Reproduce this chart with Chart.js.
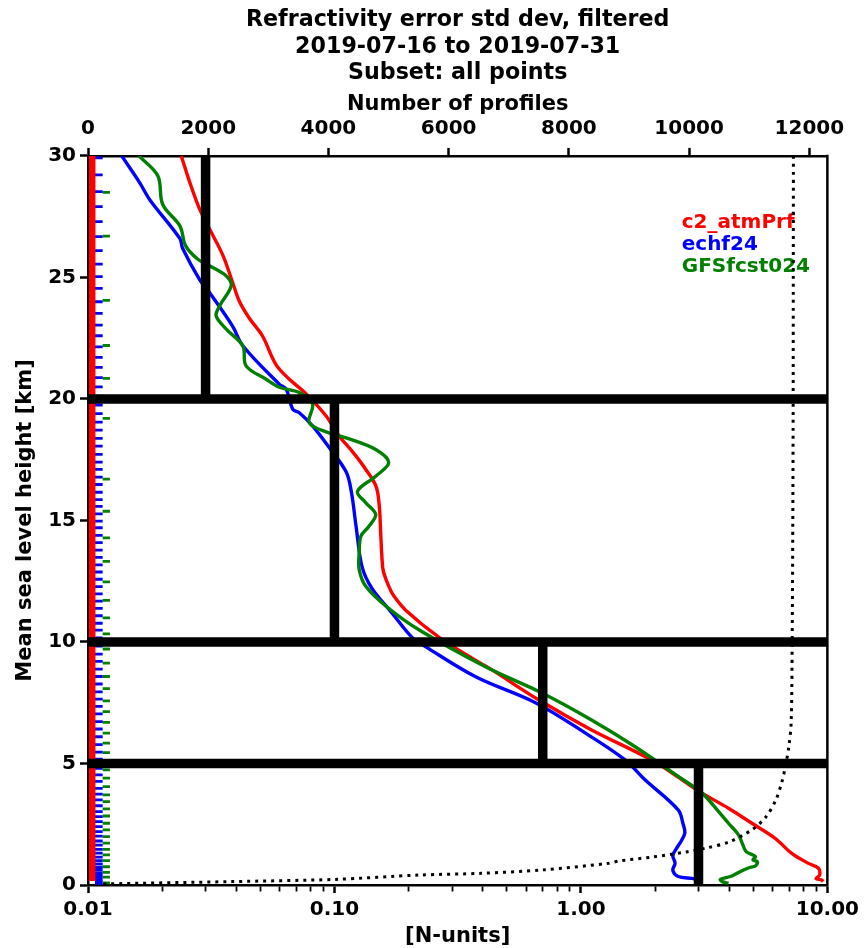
<!DOCTYPE html>
<html><head><meta charset="utf-8">
<script src="https://cdn.jsdelivr.net/npm/chart.js@4/dist/chart.umd.min.js"></script>
<style>html,body{margin:0;padding:0;background:#fff}#wrap{width:864px;height:948px}</style>
</head><body><div id="wrap"><canvas id="c" width="864" height="948"></canvas></div>
<script>
// ---------------- data ----------------
const titleLines = ['Refractivity error std dev, filtered', '2019-07-16 to 2019-07-31', 'Subset: all points'];
const seriesNames = ['c2_atmPrf', 'echf24', 'GFSfcst024'];
const seriesColors = ['#ff0000', '#0000ff', '#008000'];

// c2_atmPrf error std dev [N-units] vs height [km]
const c2Height = [30.0, 28.9, 27.8, 27.0, 25.9, 24.8, 24.0, 23.3, 22.6, 21.4, 20.8, 20.2, 19.3, 18.5, 17.8, 17.1, 16.4, 15.6, 14.5, 13.4, 12.9, 12.3, 11.9, 11.3, 10.2, 9.4, 8.86, 7.62, 6.39, 5.15, 4.33, 3.78, 3.16, 2.54, 1.92, 1.3, 0.89, 0.69, 0.41, 0.27, 0.2, 0.14];
const c2Value  = [0.0239, 0.0259, 0.0284, 0.0311, 0.0353, 0.0386, 0.0412, 0.0453, 0.051, 0.058, 0.0658, 0.0769, 0.0925, 0.104, 0.119, 0.134, 0.1475, 0.152, 0.154, 0.156, 0.158, 0.166, 0.174, 0.195, 0.265, 0.352, 0.434, 0.673, 1.10, 1.93, 2.57, 3.10, 3.97, 4.94, 6.14, 7.17, 8.38, 9.2, 9.3, 9.0, 9.5, 9.6];

// echf24
const ecHeight = [30.0, 28.9, 28.2, 26.6, 26.2, 24.9, 24.4, 23.0, 22.2, 20.6, 20.4, 19.57, 19.43, 18.9, 18.0, 17.0, 16.2, 14.75, 13.1, 12.2, 11.2, 10.2, 9.8, 8.57, 7.5, 6.26, 5.15, 4.33, 3.09, 2.5, 2.14, 1.8, 1.5, 1.2, 0.9, 0.6, 0.35, 0.25, 0.1];
const ecValue  = [0.0137, 0.0162, 0.0178, 0.0236, 0.0242, 0.0284, 0.031, 0.0386, 0.0424, 0.0598, 0.0637, 0.0678, 0.072, 0.0813, 0.0952, 0.1115, 0.117, 0.1224, 0.1294, 0.142, 0.171, 0.206, 0.235, 0.374, 0.654, 1.04, 1.51, 1.82, 2.48, 2.6, 2.64, 2.55, 2.44, 2.36, 2.41, 2.36, 2.48, 2.9, 3.07];

// GFSfcst024
const gfsHeight = [30.0, 29.18, 28.0, 27.12, 26.3, 25.75, 25.48, 25.06, 24.65, 23.83, 23.42, 22.87, 22.18, 21.36, 20.81, 20.48, 20.26, 19.78, 19.02, 18.6, 18.4, 17.92, 17.38, 16.82, 16.2, 15.73, 15.25, 14.76, 14.35, 13.67, 12.98, 12.29, 11.47, 10.5, 8.98, 7.91, 6.8, 5.69, 4.46, 3.78, 3.02, 2.54, 2.06, 1.58, 1.37, 1.17, 1.03, 0.96, 0.78, 0.73, 0.59, 0.37, 0.23, 0.14, 0.07];
const gfsValue  = [0.0161, 0.0192, 0.0201, 0.0236, 0.0249, 0.0279, 0.0311, 0.0364, 0.0381, 0.0342, 0.0331, 0.0364, 0.0425, 0.0438, 0.0528, 0.0598, 0.072, 0.0815, 0.079, 0.0952, 0.1115, 0.147, 0.166, 0.147, 0.124, 0.134, 0.147, 0.138, 0.128, 0.126, 0.126, 0.134, 0.162, 0.22, 0.41, 0.692, 1.10, 1.66, 2.49, 3.10, 3.62, 3.97, 4.36, 4.57, 4.69, 5.10, 4.99, 5.2, 5.1, 4.87, 4.5, 4.1, 3.68, 3.75, 3.97];

// Number of profiles vs height (dotted)
const nprofHeight = [30, 25, 20, 15, 9.9, 6.7, 5.7, 4.9, 4.24, 3.5, 2.8, 2.27, 1.77, 1.52, 1.36, 1.15, 0.99, 0.89, 0.62, 0.48, 0.41, 0.23, 0.14, 0.04, 0.0];
const nprofCount  = [11735, 11733, 11731, 11725, 11714, 11698, 11659, 11604, 11543, 11443, 11277, 11045, 10663, 10281, 9949, 9384, 8836, 8653, 7557, 6544, 5514, 4102, 2385, 266, 150];

// small per-level count bars at the left (top axis counts)
const c2BarCount = 70;
const c2BarTop = 30, c2BarBottom = 0.16;
const ecBarFrom = 116, ecBarTo = 244;
const gfsBarFrom = 244, gfsBarTo = 365;
const ecLevels = [29.92, 29.22, 28.53, 27.91, 27.3, 26.68, 26.1, 25.55, 25.03, 24.55, 24.0, 23.52, 23.04, 22.6, 22.14, 21.71, 21.3, 20.88, 20.5, 20.12, 19.75, 19.4, 19.05, 18.72, 18.38, 18.06, 17.72, 17.4, 17.1, 16.78, 16.48, 16.16, 15.86, 15.58, 15.27, 14.97, 14.7, 14.39, 14.09, 13.78, 13.48, 13.17, 12.88, 12.58, 12.28, 11.98, 11.68, 11.38, 11.08, 10.77, 10.49, 10.17, 9.83, 9.5, 9.2, 8.88, 8.58, 8.27, 7.95, 7.65, 7.35, 7.04, 6.72, 6.42, 6.1, 5.78, 5.47, 5.18, 4.95, 4.8, 4.53, 4.26, 3.98, 3.74, 3.5, 3.26, 3.02, 2.81, 2.61, 2.4, 2.2, 2.01, 1.81, 1.64, 1.47, 1.31, 1.15, 1.0, 0.87, 0.73, 0.61, 0.49, 0.37, 0.28, 0.2, 0.13, 0.07, 0.03];
const gfsLevels = [28.5, 26.7, 24.06, 22.2, 20.85, 19.2, 16.7, 15.38, 14.28, 13.32, 12.47, 11.71, 10.99, 10.33, 9.71, 9.13, 8.58, 8.08, 7.58, 7.13, 6.69, 6.25, 5.84, 5.45, 5.08, 4.74, 4.4, 4.05, 3.71, 3.43, 3.13, 2.84, 2.54, 2.27, 1.99, 1.72, 1.47, 1.24, 1.0, 0.75, 0.52, 0.32, 0.09];

// threshold boxes: layers and their error limits
const layerBottoms = [0, 5, 10, 20];
const layerTops    = [5, 10, 20, 30];
const layerLimits  = [3.0, 0.7, 0.1, 0.03];
const dividerHeights = [5, 10, 20];

// axes ticks
const errTicks = [0.01,0.02,0.03,0.04,0.05,0.06,0.07,0.08,0.09,0.1,0.2,0.3,0.4,0.5,0.6,0.7,0.8,0.9,1,2,3,4,5,6,7,8,9,10];
const errMajor = [0.01, 0.1, 1, 10];
const errMajorLabels = ['0.01', '0.10', '1.00', '10.00'];
const countTicks = [0, 2000, 4000, 6000, 8000, 10000, 12000];
const heightTicks = [0, 5, 10, 15, 20, 25, 30];
const errMin = 0.01, errMax = 10, countMax = 12300, heightMax = 30;

// ---------------- build ----------------
const FONT = 'DejaVu Sans';
const pts = (hs, vs) => hs.map((h, i) => ({x: vs[i], y: h}));
function bars(levels, x1, x2) {
  const out = [];
  levels.forEach(h => { out.push({x: x1, y: h}, {x: x2, y: h}, {x: null, y: null}); });
  return out;
}
const boxData = [];
dividerHeights.forEach(h => boxData.push({x: errMin, y: h}, {x: errMax, y: h}, {x: null, y: null}));
layerLimits.forEach((v, i) => boxData.push({x: v, y: layerBottoms[i]}, {x: v, y: layerTops[i]}, {x: null, y: null}));

const base = {showLine: true, pointRadius: 0, pointHoverRadius: 0, fill: false, borderCapStyle: 'butt'};

const datasets = [
  Object.assign({}, base, {label: 'boxes', data: boxData, xAxisID: 'x', borderColor: '#000', borderWidth: 9.5, tension: 0}),
  Object.assign({}, base, {label: 'profiles', data: pts(nprofHeight, nprofCount), xAxisID: 'x2', borderColor: '#000', borderWidth: 3, borderDash: [3, 5], tension: 0.3}),
  Object.assign({}, base, {label: seriesNames[2], data: pts(gfsHeight, gfsValue), xAxisID: 'x', borderColor: seriesColors[2], borderWidth: 3.4, tension: 0.35}),
  Object.assign({}, base, {label: seriesNames[1], data: pts(ecHeight, ecValue), xAxisID: 'x', borderColor: seriesColors[1], borderWidth: 3.4, tension: 0.35}),
  Object.assign({}, base, {label: seriesNames[0], data: pts(c2Height, c2Value), xAxisID: 'x', borderColor: seriesColors[0], borderWidth: 3.4, tension: 0.35}),
  Object.assign({}, base, {label: 'c2bar', data: [{x: c2BarCount, y: c2BarBottom}, {x: c2BarCount, y: c2BarTop}], xAxisID: 'x2', borderColor: seriesColors[0], borderWidth: 6.5}),
  Object.assign({}, base, {label: 'ecbar', data: bars(ecLevels, ecBarFrom, ecBarTo), xAxisID: 'x2', borderColor: seriesColors[1], borderWidth: 2.8}),
  Object.assign({}, base, {label: 'gfsbar', data: bars(gfsLevels, gfsBarFrom, gfsBarTo), xAxisID: 'x2', borderColor: seriesColors[2], borderWidth: 2.8})
];
datasets.forEach((d, i) => { d.order = i; });
datasets[0].order = -2; // boxes on top
datasets[1].order = -1;

const textPlugin = {
  id: 'textLegend',
  beforeDatasetsDraw(chart) {
    const {ctx, chartArea: a} = chart;
    ctx.save();
    ctx.font = 'bold 20px "' + FONT + '"';
    ctx.textAlign = 'left';
    ctx.textBaseline = 'alphabetic';
    const x = a.left + 0.803 * (a.right - a.left);
    seriesNames.forEach((n, i) => {
      ctx.fillStyle = seriesColors[i];
      ctx.fillText(n, x, a.top + 72 + i * 22);
    });
    ctx.restore();
  },
  afterDatasetsDraw(chart) {
    const {ctx, chartArea: a} = chart;
    ctx.save();
    ctx.strokeStyle = '#000';
    ctx.lineWidth = 2.5;
    ctx.beginPath();
    ctx.moveTo(a.right, a.top - 1.25);
    ctx.lineTo(a.right, a.bottom + 1.25);
    ctx.stroke();
    ctx.restore();
  }
};

Chart.defaults.font.family = FONT;
Chart.defaults.color = '#000';

const tickFont = {family: FONT, size: 20, weight: 'bold'};
const titleFont = {family: FONT, size: 21, weight: 'bold', lineHeight: 1.1};

new Chart(document.getElementById('c'), {
  type: 'scatter',
  data: {datasets},
  plugins: [textPlugin],
  options: {
    responsive: false,
    devicePixelRatio: 1,
    animation: false,
    events: [],
    layout: {padding: {left: 0, right: 35, top: 0, bottom: 0}},
    plugins: {
      legend: {display: false},
      tooltip: {enabled: false},
      title: {
        display: true, text: titleLines, fullSize: false, color: '#000',
        font: {family: FONT, size: 22.2, weight: 'bold', lineHeight: 1.2},
        padding: {top: 7, bottom: 0}
      }
    },
    scales: {
      x: {
        type: 'logarithmic', position: 'bottom', min: errMin, max: errMax,
        afterBuildTicks: s => { s.ticks = errTicks.map(v => ({value: v, major: errMajor.includes(v)})); },
        afterFit: s => { s.height = 63; },
        ticks: {
          autoSkip: false, maxRotation: 0, minRotation: 0, padding: 5, color: '#000', font: tickFont,
          callback: (v) => { const k = errMajor.indexOf(v); return k >= 0 ? errMajorLabels[k] : ''; }
        },
        grid: {
          drawOnChartArea: false, drawTicks: true, tickLength: 8, tickColor: '#000',
          tickWidth: c => (c.tick && c.tick.major) ? 2.5 : 1.8,
          tickBorderDash: c => (c.tick && c.tick.major) ? [] : [5, 30]
        },
        border: {display: true, color: '#000', width: 2.5},
        title: {display: true, text: '[N-units]', color: '#000', font: titleFont, padding: {top: 0, bottom: 0}}
      },
      x2: {
        type: 'linear', position: 'top', min: 0, max: countMax,
        afterBuildTicks: s => { s.ticks = countTicks.map(v => ({value: v})); },
        afterFit: s => { s.height = 69; },
        ticks: {autoSkip: false, maxRotation: 0, padding: 7, color: '#000', font: tickFont, callback: v => String(v)},
        grid: {drawOnChartArea: false, drawTicks: true, tickLength: 8, tickColor: '#000', tickWidth: 2.5},
        border: {display: true, color: '#000', width: 2.5},
        title: {display: true, text: 'Number of profiles', color: '#000', font: titleFont, padding: {top: 6, bottom: 0}}
      },
      y: {
        type: 'linear', position: 'left', min: 0, max: heightMax,
        afterBuildTicks: s => { s.ticks = heightTicks.map(v => ({value: v})); },
        afterFit: s => { s.width = 88; },
        ticks: {autoSkip: false, padding: 4, color: '#000', font: tickFont, callback: v => String(v)},
        grid: {drawOnChartArea: false, drawTicks: true, tickLength: 8, tickColor: '#000', tickWidth: 2.5},
        border: {display: true, color: '#000', width: 2.5},
        title: {display: true, text: 'Mean sea level height [km]', color: '#000', font: titleFont, padding: {top: 13.5, bottom: 0}}
      }
    }
  }
});
</script></body></html>
